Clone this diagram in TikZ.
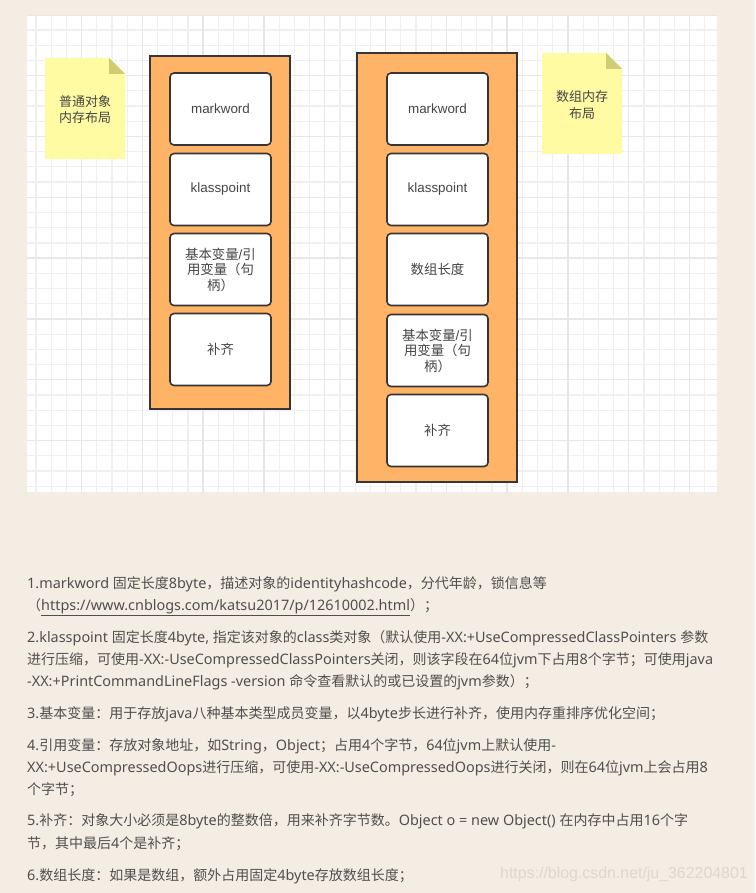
\documentclass[tikz,border=0pt]{standalone}
\usepackage{fontspec}
\setmainfont{Noto Sans}
\newfontfamily\cjkfont{Noto Sans CJK SC}
\newfontfamily\bodylatin[Scale=1.03]{Noto Sans}
\newfontfamily\diaglatin{Liberation Sans}
\let\curlatin\bodylatin
\newXeTeXintercharclass\cjkclass
\newcommand\setcjkrange[2]{\count255=#1\relax
  \loop\XeTeXcharclass\count255=\cjkclass\relax
  \ifnum\count255<#2\relax\advance\count255 by 1\relax\repeat}
\setcjkrange{"3000}{"303F}
\setcjkrange{"4E00}{"9FFF}
\setcjkrange{"FF00}{"FFEF}
\XeTeXinterchartoks 0 \cjkclass = {\cjkfont}
\XeTeXinterchartoks 4095 \cjkclass = {\cjkfont}
\XeTeXinterchartoks \cjkclass 0 = {\curlatin}
\XeTeXinterchartoks \cjkclass 4095 = {\curlatin}
\XeTeXinterchartokenstate=1

\definecolor{bgbeige}{HTML}{F4EDE3}
\definecolor{gridminor}{HTML}{F0F0F0}
\definecolor{gridmajor}{HTML}{E7E7E7}
\definecolor{boxorange}{HTML}{FFB366}
\definecolor{edgegray}{HTML}{363636}
\definecolor{notefill}{HTML}{FFFBA3}
\definecolor{notefold}{HTML}{CFCC72}
\definecolor{diagtext}{HTML}{454545}
\definecolor{bodytext}{HTML}{4F4F4F}
\definecolor{wmark}{HTML}{DCD7D1}

\newcommand\diagfont{\fontsize{13.4}{15.5}\selectfont\let\curlatin\diaglatin\diaglatin}
\newcommand\notefont{\fontsize{13}{16.5}\selectfont\let\curlatin\diaglatin\diaglatin}
\newcommand\bodyfont{\fontsize{14}{16}\selectfont\bodylatin}

\tikzset{
  container/.style={draw=edgegray, line width=1.3pt, fill=boxorange, inner sep=0},
  field/.style={draw=edgegray, line width=1.6pt, fill=white, rounded corners=4pt,
    minimum width=101pt, minimum height=72pt, inner sep=0, align=center,
    text=diagtext, font=\diagfont},
  notetext/.style={inner sep=0, align=center, text=diagtext, font=\notefont},
  bodyline/.style={anchor=base west, inner sep=0, text=bodytext, font=\bodyfont},
}

\begin{document}
\begin{tikzpicture}[x=1pt,y=-1pt]
\useasboundingbox (0,0) rectangle (755,893);
\fill[bgbeige] (0,0) rectangle (755,893);

% grid canvas
\begin{scope}
\clip (27,16) rectangle (717,492);
\fill[white] (27,16) rectangle (717,492);
\foreach \i in {0,...,46} {
  \draw[gridminor, line width=1.2pt] ({20.7+15.2*\i},0) -- ({20.7+15.2*\i},500);
}
\foreach \j in {0,...,32} {
  \draw[gridminor, line width=1.2pt] (20,{14.9+15.2*\j}) -- (720,{14.9+15.2*\j});
}
\foreach \i in {0,...,11} {
  \draw[gridmajor, line width=1.5pt] ({20.7+60.8*\i},0) -- ({20.7+60.8*\i},500);
}
\foreach \j in {0,...,8} {
  \draw[gridmajor, line width=1.5pt] (20,{14.9+60.8*\j}) -- (720,{14.9+60.8*\j});
}
\end{scope}

% sticky notes
\fill[notefill] (45,58) -- (109,58) -- (125,74) -- (125,159) -- (45,159) -- cycle;
\fill[notefold] (109,58) -- (125,74) -- (109,74) -- cycle;
\node[notetext] (note1) at (85,109.5) {普通对象\\内存布局};

\fill[notefill] (542,53) -- (606,53) -- (622,69) -- (622,154) -- (542,154) -- cycle;
\fill[notefold] (606,53) -- (622,69) -- (606,69) -- cycle;
\node[notetext] (note2) at (582,105) {数组内存\\布局};

% ordinary object layout
\node[container, minimum width=140pt, minimum height=353pt] (objbox) at (220,232.5) {};
\node[field] (omark) at (220.5,109) {markword};
\node[field] (oklass) at (220.5,189.5) {klasspoint};
\node[field] (ovars) at (220.5,269.5) {基本变量/引\\用变量（句\\柄）};
\node[field] (opad) at (220.5,349.5) {补齐};

% array layout
\node[container, minimum width=160pt, minimum height=429pt] (arrbox) at (437,267.5) {};
\node[field] (amark) at (437.5,109) {markword};
\node[field] (aklass) at (437.5,189.5) {klasspoint};
\node[field] (alen) at (437.5,269.5) {数组长度};
\node[field] (avars) at (437.5,350.5) {基本变量/引\\用变量（句\\柄）};
\node[field] (apad) at (437.5,430.5) {补齐};

% text
\node[bodyline] (l1) at (27,588) {1.markword 固定长度8byte，描述对象的identityhashcode，分代年龄，锁信息等};
\node[bodyline] (l2) at (27,610) {（\underline{https://www.cnblogs.com/katsu2017/p/12610002.html}）；};
\node[bodyline] (l3) at (27,642) {2.klasspoint 固定长度4byte, 指定该对象的class类对象（默认使用-XX:+UseCompressedClassPointers 参数};
\node[bodyline] (l4) at (27,664) {进行压缩，可使用-XX:-UseCompressedClassPointers关闭，则该字段在64位jvm下占用8个字节；可使用java};
\node[bodyline] (l5) at (27,686) {-XX:+PrintCommandLineFlags -version 命令查看默认的或已设置的jvm参数）；};
\node[bodyline] (l6) at (27,718) {3.基本变量：用于存放java八种基本类型成员变量，以4byte步长进行补齐，使用内存重排序优化空间；};
\node[bodyline] (l7) at (27,750) {4.引用变量：存放对象地址，如String，Object；占用4个字节，64位jvm上默认使用-};
\node[bodyline] (l8) at (27,772) {XX:+UseCompressedOops进行压缩，可使用-XX:-UseCompressedOops进行关闭，则在64位jvm上会占用8};
\node[bodyline] (l9) at (27,794) {个字节；};
\node[bodyline] (l10) at (27,825) {5.补齐：对象大小必须是8byte的整数倍，用来补齐字节数。Object o = new Object() 在内存中占用16个字};
\node[bodyline] (l11) at (27,848) {节，其中最后4个是补齐；};
\node[bodyline] (l12) at (27,880) {6.数组长度：如果是数组，额外占用固定4byte存放数组长度；};

% watermark
\node[anchor=west, inner sep=0, text=wmark, font={\diaglatin\fontsize{15.9}{18}\selectfont}] (wm) at (500,874) {https://blog.csdn.net/ju\_362204801};
\end{tikzpicture}
\end{document}
